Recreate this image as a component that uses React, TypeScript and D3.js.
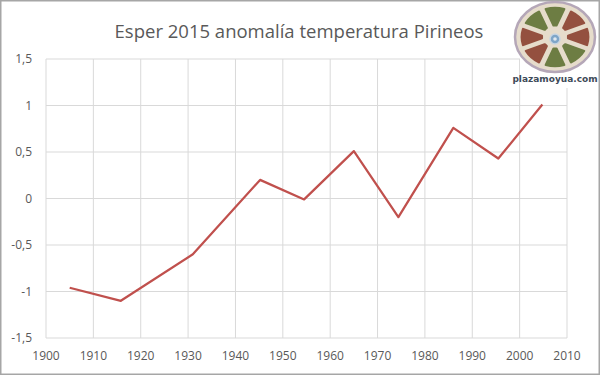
import React from 'react';
import * as d3 from 'd3';

// series
const years = [1905, 1915.8, 1931, 1945.2, 1954.5, 1965, 1974.4, 1986, 1995.5, 2004.8];
const anomalies = [-0.96, -1.1, -0.6, 0.2, -0.01, 0.51, -0.2, 0.76, 0.43, 1.01];
const xTicks = [1900, 1910, 1920, 1930, 1940, 1950, 1960, 1970, 1980, 1990, 2000, 2010];
const yTicks = [-1.5, -1, -0.5, 0, 0.5, 1, 1.5];

const title = 'Esper 2015 anomalía temperatura Pirineos';
// emblem segment colours, clockwise from the top
const segmentColors = ['#6d7d43', '#94503f', '#94503f', '#6d7d43', '#6d7d43', '#94503f', '#94503f', '#6d7d43'];

export default function App() {
    const width = 600;
    const height = 375;
    const margin = { left: 46, right: 33, top: 59, bottom: 37 };

    const x = d3.scaleLinear().domain([1900, 2010]).range([margin.left, width - margin.right]);
    const y = d3.scaleLinear().domain([-1.5, 1.5]).range([height - margin.bottom, margin.top]);

    const line = d3.line<number>()
        .x((d, i) => x(years[i]))
        .y(d => y(d));

    const fmt = (v: number) => String(v).replace('.', ',');

    // emblem arcs on a unit circle, stretched to an ellipse
    const pie = d3.pie<string>().value(1).sort(null)
        .startAngle(-Math.PI / 8).endAngle(2 * Math.PI - Math.PI / 8);
    const arc = d3.arc<d3.PieArcDatum<string>>()
        .innerRadius(0.3).outerRadius(0.86).padAngle(0.14).cornerRadius(0.03);

    const font = '"Open Sans", "Liberation Sans", sans-serif';

    return <svg width={width} height={height} style={{ position: 'absolute', left: 0, top: 0, background: '#fff' }}>
        <rect x={0.75} y={0.75} width={width - 1.5} height={height - 1.5} fill="#fff" stroke="#a6a6a6" strokeWidth={1.5} />

        <g>
            {yTicks.map(t => <line key={'h' + t} x1={margin.left} x2={width - margin.right} y1={y(t)} y2={y(t)} stroke="#d9d9d9" />)}
            {xTicks.map(t => <line key={'v' + t} x1={x(t)} x2={x(t)} y1={margin.top} y2={height - margin.bottom} stroke="#d9d9d9" />)}
        </g>

        <g fill="#595959" fontFamily={font} fontSize={12}>
            {yTicks.map(t => <text key={'yl' + t} x={32} y={y(t)} dy="0.35em" textAnchor="end">{fmt(t)}</text>)}
            {xTicks.map(t => <text key={'xl' + t} x={x(t)} y={360} textAnchor="middle">{t}</text>)}
        </g>

        <path d={line(anomalies) || ''} fill="none" stroke="#c0504d" strokeWidth={2.25} strokeLinejoin="round" />

        <text x={299} y={38} textAnchor="middle" fill="#595959" fontFamily={font} fontSize={18.5}>{title}</text>

        {/* logo */}
        <rect x={520} y={2} width={78} height={86} fill="#fff" />
        <g transform="translate(555,37)">
            <ellipse rx={40} ry={35} fill="#e6dccb" stroke="#b5a7b8" strokeWidth={2.5} />
            <g transform="scale(40,35)">
                {pie(segmentColors).map((d, i) => <path key={i} d={arc(d) || ''} fill={d.data} />)}
            </g>
            <circle cx={0} cy={2} r={5} fill="#7fa6c8" stroke="#c9d6e2" strokeWidth={1.5} />
            <circle cx={0} cy={2} r={1.8} fill="#dfe8f0" />
        </g>
        <text x={555} y={82} textAnchor="middle" fill="#3e4a58" fontFamily='"DejaVu Sans", sans-serif' fontWeight="bold" fontSize={9}>plazamoyua.com</text>
    </svg>;
}
